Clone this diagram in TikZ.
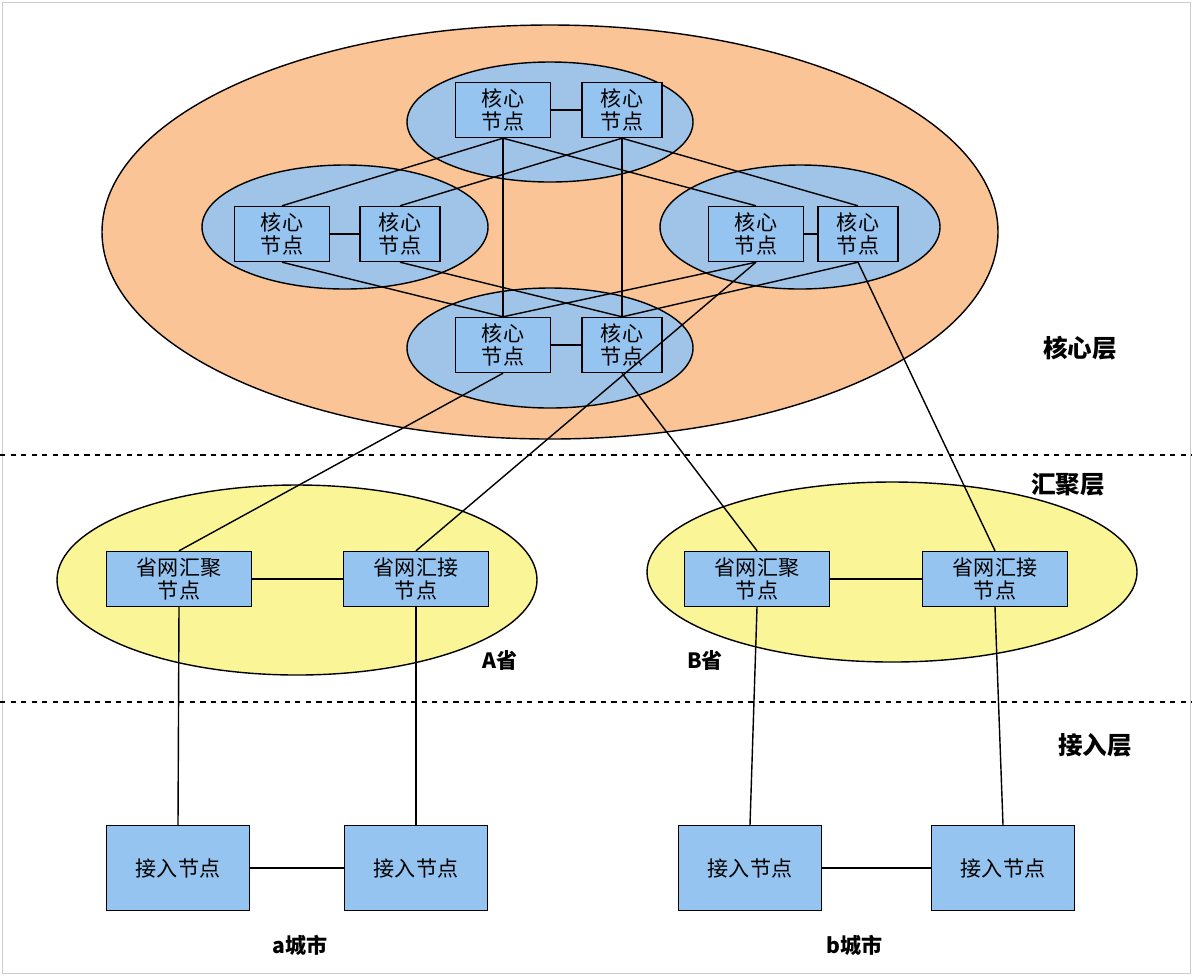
\documentclass[tikz,border=0pt]{standalone}
\usepackage{fontspec}
\newfontfamily\cjk{Noto Sans CJK SC}
\usetikzlibrary{positioning}
\definecolor{coreorange}{RGB}{250,196,150}
\definecolor{coreblue}{RGB}{160,196,232}
\definecolor{boxblue}{RGB}{150,196,240}
\definecolor{provyellow}{RGB}{250,245,150}
\tikzset{
    core/.style={draw,thick,fill=boxblue,minimum width=1.9cm,minimum height=1.1cm,align=center,font=\cjk\fontsize{12}{13}\selectfont,inner sep=1pt},
    prov/.style={draw,thick,fill=boxblue,minimum width=2.9cm,minimum height=1.1cm,align=center,font=\cjk\fontsize{12}{13}\selectfont,inner sep=1pt},
    acc/.style={draw,thick,fill=boxblue,minimum width=2.86cm,minimum height=1.7cm,font=\cjk\fontsize{12}{13}\selectfont},
    lbl/.style={font=\cjk\bfseries\fontsize{14}{15}\selectfont},
    small/.style={font=\cjk\bfseries\fontsize{12}{13}\selectfont},
    link/.style={draw,thick},
}
\begin{document}
\begin{tikzpicture}[x=0.02cm,y=-0.02cm]
    \useasboundingbox (0,0) rectangle (1192,975);
    \draw[gray!40] (2,2) rectangle (1190,973);
    % ellipses
    \draw[thick,fill=coreorange] (550,232) ellipse [x radius=448,y radius=207];
    \begin{scope}[every path/.style={draw,thick,fill=coreblue}]
        \path (550,122) ellipse [x radius=143,y radius=60];
        \path (345,227) ellipse [x radius=143,y radius=62];
        \path (800,227) ellipse [x radius=140,y radius=62];
        \path (550,348) ellipse [x radius=143,y radius=60];
    \end{scope}
    \draw[thick,fill=provyellow] (297,580) ellipse [x radius=240,y radius=95];
    \draw[thick,fill=provyellow] (892,572) ellipse [x radius=245,y radius=90];
    % layers
    \draw[thick,dashed] (0,455) -- (1192,455);
    \draw[thick,dashed] (0,702) -- (1192,702);
    \node[lbl] (l1) at (1080,348) {核心层};
    \node[lbl] (l2) at (1068,485) {汇聚层};
    \node[lbl] (l3) at (1095,745) {接入层};
    % core nodes
    \node[core] (t1) at (503,110) {核心\\节点};
    \node[core,minimum width=1.6cm] (t2) at (622,110) {核心\\节点};
    \node[core] (w1) at (282,234) {核心\\节点};
    \node[core,minimum width=1.6cm] (w2) at (400,234) {核心\\节点};
    \node[core] (e1) at (756,234) {核心\\节点};
    \node[core,minimum width=1.6cm] (e2) at (858,234) {核心\\节点};
    \node[core] (b1) at (503,345) {核心\\节点};
    \node[core,minimum width=1.6cm] (b2) at (622,345) {核心\\节点};
    % province nodes
    \node[prov] (pa1) at (179,579) {省网汇聚\\节点};
    \node[prov] (pa2) at (416,579) {省网汇接\\节点};
    \node[prov] (pb1) at (757,579) {省网汇聚\\节点};
    \node[prov] (pb2) at (995,579) {省网汇接\\节点};
    \node[small] (na) at (500,660) {A省};
    \node[small] (nb) at (705,660) {B省};
    % access nodes
    \node[acc] (aa1) at (178,868) {接入节点};
    \node[acc] (aa2) at (416,868) {接入节点};
    \node[acc] (ab1) at (750,868) {接入节点};
    \node[acc] (ab2) at (1003,868) {接入节点};
    \node[small] (ca) at (300,945) {a城市};
    \node[small] (cb) at (855,945) {b城市};
    % links
    \begin{scope}[every edge/.style={link}]
        \path
            (t1) edge (t2)
            (w1) edge (w2)
            (e1) edge (e2)
            (b1) edge (b2)
            (t1.south) edge (w1.north)
            (t1.south) edge (e1.north)
            (t2.south) edge (w2.north)
            (t2.south) edge (e2.north)
            (t1.south) edge (b1.north)
            (t2.south) edge (b2.north)
            (w1.south) edge (b1.north)
            (w2.south) edge (b2.north)
            (e1.south) edge (b1.north)
            (e2.south) edge (b2.north)
            (b1.south) edge (pa1.north)
            (e1.south) edge (pa2.north)
            (b2.south) edge (pb1.north)
            (e2.south) edge (pb2.north)
            (pa1) edge (pa2)
            (pb1) edge (pb2)
            (pa1.south) edge (aa1.north)
            (pa2.south) edge (aa2.north)
            (pb1.south) edge (ab1.north)
            (pb2.south) edge (ab2.north)
            (aa1) edge (aa2)
            (ab1) edge (ab2);
    \end{scope}
\end{tikzpicture}
\end{document}
